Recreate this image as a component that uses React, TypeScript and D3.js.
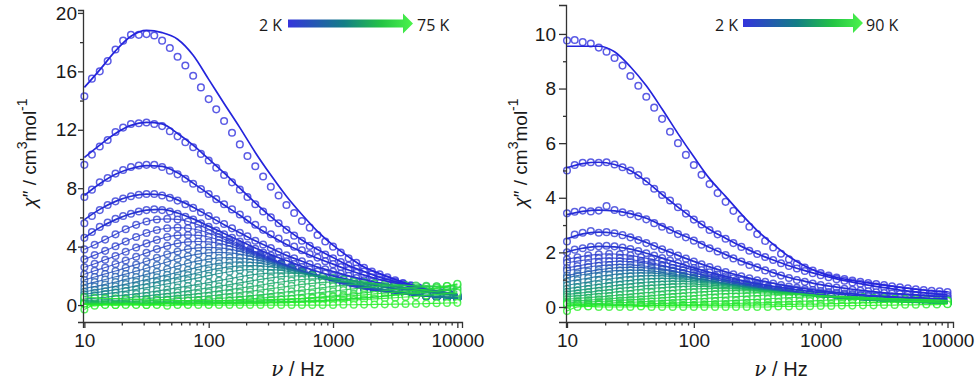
import React, { useEffect, useRef } from 'react';
import * as d3 from 'd3';

// measurement frequencies (Hz)
const FREQ_FINE = [10, 11.5, 13.3, 15.4, 17.8, 20.5, 23.7, 27.4, 31.6, 36.5, 42.2, 48.7, 56.2, 64.9, 75, 86.6,
  100, 115, 133, 154, 178, 205, 237, 274, 316, 365, 422, 487, 562, 649, 750, 866,
  1000, 1155, 1334, 1540, 1778, 2054, 2371, 2738, 3162, 3652, 4217, 4870, 5623, 6494, 7499, 8660, 10000];
const FREQ_COARSE = [10, 12.1, 14.7, 17.8, 21.5, 26.1, 31.6, 38.3, 46.4, 56.2, 68.1, 82.5,
  100, 121, 147, 178, 215, 261, 316, 383, 464, 562, 681, 825,
  1000, 1212, 1468, 1778, 2154, 2610, 3162, 3831, 4642, 5623, 6813, 8254, 10000];
const FREQ_FIT = [10, 13.3, 17.8, 23.7, 31.6, 42.2, 56.2, 75, 100, 133, 178, 237, 316, 422, 562, 750,
  1000, 1334, 1778, 2371, 3162, 4217, 5623, 7499, 10000];

const X_TICKS = [10, 100, 1000, 10000];
const X_MINOR = [20, 30, 40, 50, 60, 70, 80, 90, 200, 300, 400, 500, 600, 700, 800, 900,
  2000, 3000, 4000, 5000, 6000, 7000, 8000, 9000];
const LEFT_Y_TICKS = [0, 4, 8, 12, 16, 20];
const LEFT_Y_MINOR = [2, 6, 10, 14, 18];
const RIGHT_Y_TICKS = [0, 2, 4, 6, 8, 10];
const RIGHT_Y_MINOR = [1, 3, 5, 7, 9];
const LEFT_TEMPS = ['2 K', '75 K'];
const RIGHT_TEMPS = ['2 K', '90 K'];

// left panel: lowest temperatures, fine frequency grid
const LEFT_TOP = [
  [14.3, 15.5, 16.0, 16.7, 17.5, 18.1, 18.5, 18.5, 18.55, 18.45, 18.1, 17.6, 17.0, 16.4, 15.7, 14.9, 14.1, 13.4, 12.6, 11.8, 11.0, 10.2, 9.5, 8.8, 8.1, 7.5, 6.85, 6.3, 5.75, 5.3, 4.8, 4.35, 4.0, 3.6, 3.2, 2.9, 2.55, 2.3, 2.1, 1.9, 1.7, 1.5, 1.35, 1.2, 1.05, 0.95, 0.85, 0.75, 0.68],
  [9.6, 10.3, 10.85, 11.3, 11.85, 12.15, 12.4, 12.45, 12.5, 12.4, 12.25, 11.9, 11.55, 11.15, 10.8, 10.35, 9.9, 9.4, 8.9, 8.4, 7.9, 7.4, 6.9, 6.4, 6.0, 5.6, 5.15, 4.75, 4.4, 4.05, 3.75, 3.45, 3.2, 2.95, 2.7, 2.5, 2.3, 2.1, 1.9, 1.75, 1.6, 1.45, 1.3, 1.2, 1.05, 0.95, 0.85, 0.75, 0.65],
  [7.4, 7.9, 8.4, 8.7, 9.0, 9.25, 9.45, 9.55, 9.6, 9.6, 9.45, 9.2, 8.95, 8.65, 8.3, 7.95, 7.6, 7.25, 6.9, 6.55, 6.2, 5.85, 5.5, 5.15, 4.85, 4.55, 4.25, 4.0, 3.75, 3.5, 3.25, 3.0, 2.8, 2.6, 2.4, 2.2, 2.05, 1.9, 1.75, 1.6, 1.45, 1.35, 1.2, 1.1, 1.0, 0.9, 0.8, 0.72, 0.65],
  [5.6, 6.1, 6.5, 6.85, 7.1, 7.3, 7.45, 7.55, 7.6, 7.6, 7.5, 7.35, 7.15, 6.9, 6.65, 6.35, 6.1, 5.8, 5.55, 5.25, 4.95, 4.7, 4.4, 4.15, 3.9, 3.65, 3.4, 3.2, 3.0, 2.8, 2.6, 2.45, 2.3, 2.15, 2.0, 1.85, 1.7, 1.6, 1.5, 1.4, 1.3, 1.2, 1.1, 1.0, 0.95, 0.88, 0.8, 0.72, 0.65],
  [4.6, 5.0, 5.35, 5.65, 5.9, 6.1, 6.25, 6.4, 6.5, 6.55, 6.5, 6.4, 6.25, 6.05, 5.85, 5.6, 5.35, 5.1, 4.85, 4.6, 4.35, 4.1, 3.85, 3.6, 3.4, 3.2, 3.0, 2.8, 2.6, 2.45, 2.3, 2.15, 2.0, 1.85, 1.75, 1.6, 1.5, 1.4, 1.3, 1.2, 1.12, 1.05, 0.98, 0.92, 0.86, 0.8, 0.75, 0.7, 0.65],
];
const LEFT_TOP_FIT = [
  [14.9, 16.1, 17.4, 18.4, 18.8, 18.65, 18.2, 17.1, 15.45, 13.8, 12.15, 10.45, 8.9, 7.45, 6.2, 5.05, 4.1, 3.3, 2.6, 2.15, 1.75, 1.4, 1.1, 0.85, 0.7],
  [10.1, 10.95, 11.75, 12.3, 12.5, 12.4, 11.75, 10.95, 10.0, 9.05, 8.0, 7.0, 6.05, 5.2, 4.45, 3.8, 3.25, 2.7, 2.3, 1.9, 1.6, 1.35, 1.1, 0.9, 0.75],
  [7.5, 8.3, 8.95, 9.35, 9.55, 9.5, 9.05, 8.35, 7.6, 6.85, 6.15, 5.4, 4.75, 4.15, 3.65, 3.2, 2.8, 2.4, 2.05, 1.75, 1.5, 1.25, 1.05, 0.85, 0.7],
  [5.85, 6.55, 7.1, 7.45, 7.6, 7.55, 7.2, 6.7, 6.1, 5.5, 4.95, 4.4, 3.9, 3.4, 3.0, 2.6, 2.3, 2.0, 1.75, 1.5, 1.3, 1.1, 0.95, 0.8, 0.68],
  [4.6, 5.3, 5.85, 6.25, 6.5, 6.55, 6.3, 5.9, 5.4, 4.9, 4.4, 3.9, 3.45, 3.05, 2.65, 2.3, 2.0, 1.75, 1.5, 1.3, 1.15, 1.0, 0.9, 0.78, 0.68],
];
// left panel: higher temperatures, coarse frequency grid
const LEFT_LOW = [
  [3.81, 4.13, 4.48, 4.84, 5.19, 5.49, 5.72, 5.86, 5.9, 5.86, 5.72, 5.49, 5.19, 4.84, 4.48, 4.13, 3.81, 3.48, 3.19, 2.86, 2.57, 2.3, 2.07, 1.83, 1.62, 1.42, 1.24, 1.12, 1.0, 0.91, 0.83, 0.76, 0.69, 0.63, 0.58, 0.53, 0.49],
  [3.13, 3.42, 3.71, 4.03, 4.35, 4.66, 4.93, 5.14, 5.26, 5.3, 5.26, 5.14, 4.93, 4.66, 4.35, 4.03, 3.71, 3.42, 3.13, 2.86, 2.57, 2.31, 2.07, 1.86, 1.64, 1.46, 1.27, 1.11, 1.01, 0.9, 0.82, 0.74, 0.68, 0.62, 0.57, 0.52, 0.48],
  [2.59, 2.83, 3.1, 3.36, 3.65, 3.94, 4.22, 4.46, 4.66, 4.77, 4.8, 4.77, 4.66, 4.46, 4.22, 3.94, 3.65, 3.36, 3.1, 2.83, 2.59, 2.33, 2.09, 1.87, 1.68, 1.49, 1.32, 1.15, 1.01, 0.91, 0.82, 0.74, 0.67, 0.61, 0.56, 0.51, 0.47],
  [2.11, 2.35, 2.57, 2.81, 3.05, 3.31, 3.57, 3.83, 4.05, 4.22, 4.32, 4.35, 4.32, 4.22, 4.05, 3.83, 3.57, 3.31, 3.05, 2.81, 2.57, 2.35, 2.11, 1.89, 1.7, 1.52, 1.35, 1.2, 1.04, 0.91, 0.83, 0.74, 0.67, 0.61, 0.56, 0.51, 0.47],
  [1.72, 1.92, 2.13, 2.33, 2.55, 2.77, 3.0, 3.24, 3.48, 3.67, 3.83, 3.92, 3.95, 3.92, 3.83, 3.67, 3.48, 3.24, 3.0, 2.77, 2.55, 2.33, 2.13, 1.92, 1.72, 1.54, 1.38, 1.22, 1.09, 0.95, 0.83, 0.75, 0.67, 0.61, 0.55, 0.51, 0.46],
  [1.4, 1.57, 1.75, 1.94, 2.12, 2.32, 2.52, 2.74, 2.95, 3.17, 3.35, 3.49, 3.57, 3.6, 3.57, 3.49, 3.35, 3.17, 2.95, 2.74, 2.52, 2.32, 2.12, 1.94, 1.75, 1.57, 1.4, 1.26, 1.12, 0.99, 0.86, 0.76, 0.68, 0.61, 0.56, 0.5, 0.46],
  [1.14, 1.27, 1.41, 1.58, 1.76, 1.92, 2.1, 2.28, 2.47, 2.67, 2.86, 3.02, 3.15, 3.23, 3.25, 3.23, 3.15, 3.02, 2.86, 2.67, 2.47, 2.28, 2.1, 1.92, 1.76, 1.58, 1.41, 1.27, 1.14, 1.01, 0.89, 0.78, 0.68, 0.62, 0.55, 0.5, 0.46],
  [0.91, 1.03, 1.15, 1.28, 1.43, 1.59, 1.74, 1.9, 2.07, 2.24, 2.42, 2.6, 2.74, 2.86, 2.93, 2.95, 2.93, 2.86, 2.74, 2.6, 2.42, 2.24, 2.07, 1.9, 1.74, 1.59, 1.43, 1.28, 1.15, 1.03, 0.91, 0.81, 0.71, 0.62, 0.56, 0.5, 0.46],
  [0.74, 0.84, 0.95, 1.05, 1.17, 1.31, 1.46, 1.59, 1.74, 1.89, 2.05, 2.21, 2.38, 2.51, 2.62, 2.68, 2.7, 2.68, 2.62, 2.51, 2.38, 2.21, 2.05, 1.89, 1.74, 1.59, 1.46, 1.31, 1.17, 1.05, 0.95, 0.84, 0.74, 0.65, 0.57, 0.51, 0.46],
  [0.59, 0.67, 0.76, 0.86, 0.96, 1.07, 1.19, 1.32, 1.45, 1.58, 1.72, 1.86, 2.01, 2.16, 2.28, 2.38, 2.43, 2.45, 2.43, 2.38, 2.28, 2.16, 2.01, 1.86, 1.72, 1.58, 1.45, 1.32, 1.19, 1.07, 0.96, 0.86, 0.76, 0.67, 0.59, 0.51, 0.47],
  [0.42, 0.46, 0.53, 0.61, 0.68, 0.77, 0.86, 0.96, 1.07, 1.19, 1.3, 1.42, 1.54, 1.67, 1.8, 1.94, 2.05, 2.13, 2.18, 2.2, 2.18, 2.13, 2.05, 1.94, 1.8, 1.67, 1.54, 1.42, 1.3, 1.19, 1.07, 0.96, 0.86, 0.77, 0.68, 0.61, 0.53],
  [0.31, 0.34, 0.38, 0.42, 0.48, 0.55, 0.62, 0.7, 0.78, 0.87, 0.97, 1.08, 1.18, 1.29, 1.4, 1.52, 1.64, 1.76, 1.86, 1.94, 1.99, 2.0, 1.99, 1.94, 1.86, 1.76, 1.64, 1.52, 1.4, 1.29, 1.18, 1.08, 0.97, 0.87, 0.78, 0.7, 0.62],
  [0.23, 0.25, 0.28, 0.31, 0.34, 0.38, 0.43, 0.5, 0.56, 0.63, 0.7, 0.78, 0.87, 0.97, 1.06, 1.16, 1.26, 1.37, 1.48, 1.58, 1.67, 1.75, 1.79, 1.8, 1.79, 1.75, 1.67, 1.58, 1.48, 1.37, 1.26, 1.16, 1.06, 0.97, 0.87, 0.78, 0.7],
  [0.17, 0.19, 0.2, 0.22, 0.25, 0.27, 0.3, 0.34, 0.38, 0.44, 0.5, 0.56, 0.62, 0.7, 0.78, 0.86, 0.94, 1.03, 1.12, 1.22, 1.31, 1.41, 1.49, 1.55, 1.59, 1.6, 1.59, 1.55, 1.49, 1.41, 1.31, 1.22, 1.12, 1.03, 0.94, 0.86, 0.78],
  [0.12, 0.13, 0.14, 0.16, 0.17, 0.19, 0.2, 0.22, 0.25, 0.28, 0.3, 0.35, 0.4, 0.45, 0.51, 0.57, 0.63, 0.7, 0.78, 0.86, 0.94, 1.02, 1.1, 1.19, 1.28, 1.35, 1.41, 1.44, 1.45, 1.44, 1.41, 1.35, 1.28, 1.19, 1.1, 1.02, 0.94],
  [0.09, 0.1, 0.1, 0.11, 0.12, 0.13, 0.14, 0.16, 0.17, 0.19, 0.21, 0.23, 0.26, 0.28, 0.32, 0.37, 0.42, 0.47, 0.53, 0.59, 0.65, 0.73, 0.8, 0.87, 0.95, 1.03, 1.11, 1.19, 1.26, 1.31, 1.34, 1.35, 1.34, 1.31, 1.26, 1.19, 1.11],
  [0.07, 0.07, 0.07, 0.08, 0.09, 0.09, 0.1, 0.11, 0.12, 0.13, 0.14, 0.15, 0.17, 0.18, 0.2, 0.22, 0.25, 0.27, 0.31, 0.36, 0.4, 0.46, 0.51, 0.57, 0.63, 0.7, 0.77, 0.84, 0.91, 0.99, 1.07, 1.14, 1.21, 1.26, 1.29, 1.3, 1.29],
  [0.05, 0.05, 0.05, 0.06, 0.06, 0.06, 0.07, 0.07, 0.08, 0.08, 0.09, 0.1, 0.1, 0.11, 0.12, 0.13, 0.15, 0.16, 0.18, 0.19, 0.21, 0.24, 0.26, 0.3, 0.34, 0.39, 0.44, 0.49, 0.54, 0.61, 0.68, 0.74, 0.81, 0.88, 0.95, 1.03, 1.1],
  [0.07, 0.07, 0.07, 0.08, 0.08, 0.09, 0.09, 0.1, 0.11, 0.11, 0.12, 0.13, 0.14, 0.15, 0.16, 0.17, 0.18, 0.2, 0.22, 0.23, 0.25, 0.28, 0.3, 0.33, 0.36, 0.4, 0.44, 0.49, 0.55, 0.62, 0.71, 0.81, 0.91, 1.01, 1.13, 1.26, 1.4],
  [0.55, 0.5, 0.45, 0.45, 0.4, 0.4, 0.35, 0.35, 0.35, 0.3, 0.3, 0.3, 0.3, 0.3, 0.3, 0.32, 0.34, 0.36, 0.38, 0.4, 0.42, 0.45, 0.48, 0.52, 0.56, 0.6, 0.65, 0.7, 0.76, 0.82, 0.88, 0.95, 1.02, 1.1, 1.2, 1.3, 1.45],
  [-0.3, 0.0, 0.05, 0.0, 0.1, 0.05, 0.0, 0.05, 0.1, 0.05, 0.05, 0.1, 0.05, 0.1, 0.1, 0.1, 0.12, 0.12, 0.15, 0.15, 0.18, 0.2, 0.22, 0.25, 0.28, 0.3, 0.35, 0.38, 0.42, 0.46, 0.5, 0.55, 0.6, 0.66, 0.72, 0.78, 0.85],
  [0.1, -0.05, 0, 0, 0, 0, 0, 0, -0.05, 0, 0, 0, 0, 0, 0, 0, 0, 0, 0, 0, 0, 0, 0, 0, 0, 0.02, 0.02, 0.03, 0.04, 0.05, 0.06, 0.07, 0.08, 0.1, 0.12, 0.14, 0.15],
];

// right panel
const RIGHT_TOP = [
  [9.76, 9.78, 9.7, 9.65, 9.5, 9.35, 9.12, 8.84, 8.46, 8.1, 7.7, 7.3, 6.89, 6.42, 6.0, 5.57, 5.2, 4.84, 4.5, 4.17, 3.85, 3.52, 3.22, 2.94, 2.67, 2.42, 2.18, 1.95, 1.75, 1.58, 1.44, 1.33, 1.24, 1.15, 1.08, 1.02, 0.97, 0.92, 0.88, 0.84, 0.8, 0.76, 0.72, 0.68, 0.65, 0.62, 0.59, 0.57, 0.55],
  [5.0, 5.2, 5.28, 5.3, 5.28, 5.3, 5.22, 5.12, 5.0, 4.83, 4.6, 4.33, 4.1, 3.9, 3.65, 3.42, 3.2, 3.02, 2.82, 2.66, 2.5, 2.34, 2.2, 2.06, 1.94, 1.83, 1.72, 1.6, 1.5, 1.41, 1.32, 1.24, 1.16, 1.09, 1.02, 0.96, 0.9, 0.85, 0.8, 0.75, 0.71, 0.66, 0.62, 0.58, 0.55, 0.52, 0.49, 0.46, 0.44],
  [3.43, 3.49, 3.53, 3.5, 3.53, 3.7, 3.55, 3.47, 3.4, 3.32, 3.21, 3.07, 2.94, 2.82, 2.67, 2.55, 2.43, 2.28, 2.15, 2.03, 1.9, 1.78, 1.66, 1.54, 1.45, 1.34, 1.24, 1.15, 1.06, 0.99, 0.92, 0.86, 0.8, 0.75, 0.71, 0.67, 0.63, 0.6, 0.57, 0.54, 0.51, 0.49, 0.47, 0.45, 0.43, 0.41, 0.4, 0.38, 0.37],
  [2.4, 2.65, 2.72, 2.78, 2.72, 2.74, 2.7, 2.63, 2.55, 2.45, 2.34, 2.23, 2.11, 1.99, 1.88, 1.77, 1.66, 1.56, 1.46, 1.37, 1.28, 1.2, 1.12, 1.05, 0.98, 0.92, 0.86, 0.8, 0.75, 0.7, 0.66, 0.62, 0.58, 0.55, 0.52, 0.49, 0.47, 0.45, 0.43, 0.41, 0.39, 0.38, 0.36, 0.35, 0.34, 0.33, 0.32, 0.31, 0.3],
  [2.0, 2.1, 2.15, 2.2, 2.22, 2.24, 2.22, 2.18, 2.12, 2.05, 1.97, 1.88, 1.79, 1.7, 1.61, 1.52, 1.43, 1.35, 1.27, 1.19, 1.12, 1.05, 0.98, 0.92, 0.86, 0.81, 0.76, 0.71, 0.67, 0.63, 0.59, 0.56, 0.53, 0.5, 0.47, 0.45, 0.43, 0.41, 0.39, 0.37, 0.36, 0.34, 0.33, 0.32, 0.31, 0.3, 0.29, 0.28, 0.27],
];
const RIGHT_TOP_FIT = [
  [9.55, 9.55, 9.55, 9.35, 8.8, 8.1, 7.25, 6.35, 5.5, 4.7, 4.05, 3.4, 2.8, 2.3, 1.85, 1.5, 1.25, 1.08, 0.97, 0.88, 0.8, 0.72, 0.65, 0.59, 0.55],
  [5.1, 5.25, 5.3, 5.22, 5.0, 4.6, 4.12, 3.66, 3.22, 2.84, 2.52, 2.22, 1.95, 1.72, 1.51, 1.33, 1.17, 1.03, 0.91, 0.8, 0.71, 0.62, 0.55, 0.49, 0.44],
  [3.38, 3.5, 3.55, 3.52, 3.42, 3.25, 2.98, 2.7, 2.45, 2.18, 1.92, 1.68, 1.47, 1.26, 1.08, 0.94, 0.82, 0.73, 0.65, 0.58, 0.52, 0.48, 0.44, 0.4, 0.37],
  [2.5, 2.68, 2.74, 2.7, 2.57, 2.36, 2.12, 1.89, 1.67, 1.47, 1.29, 1.13, 0.99, 0.87, 0.76, 0.67, 0.59, 0.53, 0.48, 0.43, 0.39, 0.36, 0.34, 0.32, 0.3],
  [2.02, 2.15, 2.22, 2.2, 2.12, 1.97, 1.79, 1.61, 1.43, 1.27, 1.12, 0.98, 0.86, 0.76, 0.67, 0.59, 0.53, 0.48, 0.43, 0.39, 0.36, 0.33, 0.31, 0.29, 0.27],
];
const RIGHT_LOW = [
  [1.75, 1.82, 1.89, 1.93, 1.95, 1.93, 1.89, 1.82, 1.75, 1.66, 1.55, 1.45, 1.35, 1.25, 1.15, 1.06, 0.98, 0.9, 0.82, 0.74, 0.68, 0.62, 0.55, 0.51, 0.46, 0.42, 0.39, 0.36, 0.33, 0.31, 0.29, 0.27, 0.26, 0.25, 0.23, 0.22, 0.21],
  [1.62, 1.68, 1.74, 1.78, 1.8, 1.78, 1.74, 1.68, 1.62, 1.53, 1.43, 1.34, 1.25, 1.15, 1.06, 0.98, 0.9, 0.83, 0.76, 0.68, 0.63, 0.57, 0.51, 0.47, 0.42, 0.39, 0.36, 0.33, 0.3, 0.29, 0.27, 0.25, 0.24, 0.23, 0.21, 0.2, 0.19],
  [1.43, 1.5, 1.57, 1.63, 1.66, 1.68, 1.66, 1.63, 1.57, 1.5, 1.43, 1.34, 1.25, 1.16, 1.08, 0.99, 0.92, 0.84, 0.77, 0.71, 0.64, 0.59, 0.54, 0.47, 0.44, 0.39, 0.36, 0.34, 0.31, 0.29, 0.27, 0.25, 0.24, 0.22, 0.21, 0.2, 0.19],
  [1.33, 1.39, 1.46, 1.51, 1.54, 1.56, 1.54, 1.51, 1.46, 1.39, 1.33, 1.24, 1.16, 1.08, 1.0, 0.92, 0.85, 0.78, 0.72, 0.66, 0.59, 0.55, 0.5, 0.44, 0.41, 0.36, 0.33, 0.32, 0.29, 0.27, 0.25, 0.23, 0.22, 0.2, 0.2, 0.19, 0.18],
  [1.15, 1.23, 1.3, 1.36, 1.41, 1.44, 1.45, 1.44, 1.41, 1.36, 1.3, 1.23, 1.15, 1.08, 1.0, 0.93, 0.86, 0.79, 0.73, 0.67, 0.61, 0.55, 0.51, 0.46, 0.41, 0.38, 0.34, 0.31, 0.29, 0.27, 0.25, 0.23, 0.22, 0.2, 0.19, 0.18, 0.17],
  [1.07, 1.15, 1.21, 1.27, 1.31, 1.34, 1.35, 1.34, 1.31, 1.27, 1.21, 1.15, 1.07, 1.01, 0.93, 0.87, 0.8, 0.74, 0.68, 0.62, 0.57, 0.51, 0.47, 0.43, 0.38, 0.35, 0.32, 0.29, 0.27, 0.25, 0.23, 0.21, 0.2, 0.19, 0.18, 0.17, 0.16],
  [0.93, 0.99, 1.06, 1.12, 1.17, 1.21, 1.24, 1.25, 1.24, 1.21, 1.17, 1.12, 1.06, 0.99, 0.93, 0.86, 0.8, 0.74, 0.68, 0.63, 0.58, 0.53, 0.48, 0.44, 0.4, 0.35, 0.33, 0.29, 0.27, 0.25, 0.23, 0.21, 0.2, 0.19, 0.18, 0.17, 0.16],
  [0.79, 0.86, 0.91, 0.98, 1.03, 1.08, 1.12, 1.14, 1.15, 1.14, 1.12, 1.08, 1.03, 0.98, 0.91, 0.86, 0.79, 0.74, 0.68, 0.63, 0.58, 0.53, 0.48, 0.44, 0.4, 0.37, 0.32, 0.3, 0.27, 0.25, 0.23, 0.21, 0.2, 0.18, 0.17, 0.16, 0.15],
  [0.67, 0.72, 0.78, 0.83, 0.89, 0.94, 0.98, 1.02, 1.04, 1.05, 1.04, 1.02, 0.98, 0.94, 0.89, 0.83, 0.78, 0.72, 0.67, 0.62, 0.57, 0.53, 0.48, 0.44, 0.4, 0.37, 0.34, 0.29, 0.27, 0.25, 0.23, 0.21, 0.19, 0.18, 0.17, 0.16, 0.15],
  [0.56, 0.61, 0.66, 0.71, 0.76, 0.81, 0.85, 0.89, 0.92, 0.94, 0.95, 0.94, 0.92, 0.89, 0.85, 0.81, 0.76, 0.71, 0.66, 0.61, 0.56, 0.52, 0.48, 0.44, 0.4, 0.36, 0.33, 0.3, 0.27, 0.25, 0.22, 0.2, 0.19, 0.18, 0.16, 0.15, 0.14],
  [0.46, 0.5, 0.54, 0.59, 0.63, 0.68, 0.72, 0.76, 0.79, 0.82, 0.84, 0.85, 0.84, 0.82, 0.79, 0.76, 0.72, 0.68, 0.63, 0.59, 0.54, 0.5, 0.46, 0.43, 0.39, 0.36, 0.32, 0.3, 0.27, 0.24, 0.22, 0.2, 0.18, 0.17, 0.16, 0.14, 0.14],
  [0.38, 0.41, 0.45, 0.49, 0.52, 0.57, 0.6, 0.65, 0.68, 0.71, 0.74, 0.75, 0.76, 0.75, 0.74, 0.71, 0.68, 0.65, 0.6, 0.57, 0.52, 0.49, 0.45, 0.41, 0.38, 0.35, 0.32, 0.29, 0.27, 0.24, 0.21, 0.2, 0.18, 0.16, 0.15, 0.14, 0.13],
  [0.29, 0.31, 0.34, 0.37, 0.4, 0.44, 0.47, 0.51, 0.54, 0.58, 0.61, 0.64, 0.66, 0.67, 0.68, 0.67, 0.66, 0.64, 0.61, 0.58, 0.54, 0.51, 0.47, 0.44, 0.4, 0.37, 0.34, 0.31, 0.29, 0.26, 0.24, 0.22, 0.19, 0.18, 0.16, 0.15, 0.14],
  [0.21, 0.23, 0.25, 0.28, 0.3, 0.33, 0.35, 0.38, 0.41, 0.45, 0.48, 0.51, 0.54, 0.56, 0.58, 0.59, 0.6, 0.59, 0.58, 0.56, 0.54, 0.51, 0.48, 0.45, 0.41, 0.38, 0.35, 0.33, 0.3, 0.28, 0.25, 0.23, 0.21, 0.19, 0.17, 0.16, 0.14],
  [0.15, 0.17, 0.18, 0.2, 0.22, 0.24, 0.26, 0.28, 0.31, 0.33, 0.36, 0.39, 0.41, 0.44, 0.47, 0.49, 0.5, 0.51, 0.52, 0.51, 0.5, 0.49, 0.47, 0.44, 0.41, 0.39, 0.36, 0.33, 0.31, 0.28, 0.26, 0.24, 0.22, 0.2, 0.18, 0.17, 0.15],
  [0.1, 0.11, 0.12, 0.13, 0.14, 0.16, 0.17, 0.19, 0.21, 0.23, 0.25, 0.27, 0.29, 0.31, 0.34, 0.36, 0.38, 0.4, 0.42, 0.44, 0.45, 0.45, 0.45, 0.44, 0.42, 0.4, 0.38, 0.36, 0.34, 0.31, 0.29, 0.27, 0.25, 0.23, 0.21, 0.19, 0.17],
  [0.06, 0.06, 0.07, 0.08, 0.08, 0.09, 0.1, 0.11, 0.12, 0.13, 0.14, 0.16, 0.17, 0.19, 0.21, 0.22, 0.24, 0.26, 0.28, 0.3, 0.32, 0.34, 0.36, 0.37, 0.38, 0.38, 0.38, 0.37, 0.36, 0.34, 0.32, 0.3, 0.28, 0.26, 0.24, 0.22, 0.21],
  [0.04, 0.04, 0.04, 0.04, 0.05, 0.05, 0.05, 0.06, 0.06, 0.06, 0.07, 0.08, 0.08, 0.1, 0.11, 0.11, 0.13, 0.14, 0.15, 0.16, 0.18, 0.19, 0.21, 0.22, 0.24, 0.26, 0.27, 0.28, 0.29, 0.3, 0.3, 0.3, 0.29, 0.28, 0.27, 0.26, 0.24],
  [0.12, 0.1, 0.08, 0.1, 0.08, 0.06, 0.08, 0.06, 0.05, 0.06, 0.05, 0.06, 0.05, 0.06, 0.05, 0.06, 0.06, 0.07, 0.07, 0.08, 0.08, 0.09, 0.1, 0.1, 0.11, 0.12, 0.13, 0.14, 0.15, 0.16, 0.17, 0.18, 0.19, 0.2, 0.21, 0.22, 0.23],
  [-0.15, 0.0, 0.02, 0.0, 0.0, 0.0, 0.0, 0.02, 0.0, 0.0, 0.0, 0.0, 0.0, 0.0, 0.0, 0.0, 0.0, 0.0, 0.0, 0.0, 0.02, 0.02, 0.03, 0.03, 0.04, 0.04, 0.05, 0.05, 0.06, 0.06, 0.07, 0.07, 0.08, 0.08, 0.09, 0.09, 0.1],
];

const FONT = "'Liberation Sans', Arial, sans-serif";
const AXIS_COLOR = '#333';
const TEXT_COLOR = '#1a1a1a';

// blue (2 K) -> teal -> green (high T)
const curveColor = d3.scaleLinear<string>()
  .domain([0, 0.3, 0.55, 0.78, 1])
  .range(['#2424dc', '#2840c8', '#148a84', '#22cc48', '#22f022'])
  .interpolate(d3.interpolateRgb);

const GRAD_STOPS = [
  { offset: '0%', color: '#3434dc' },
  { offset: '45%', color: '#137e86' },
  { offset: '75%', color: '#24c444' },
  { offset: '100%', color: '#4cf44c' },
];

const PANELS = [
  {
    x0: 83, x1: 462, xDomain: [9.75, 10900],
    yTop: 10, yBottom: 322, yDomain: [-1.16, 20.2],
    yTicks: LEFT_Y_TICKS, yMinor: LEFT_Y_MINOR, tickSize: 5, tickPad: 1,
    top: LEFT_TOP, fits: LEFT_TOP_FIT, low: LEFT_LOW,
    yLabelX: 36, yLabelY: 153, xLabelX: 298,
    temps: LEFT_TEMPS, legend: { lx: 282, sx: 288, hx: 403, tx: 413, cy: 23.5, rx: 417 },
  },
  {
    x0: 566, x1: 953, xDomain: [9.82, 11050],
    yTop: 5, yBottom: 322, yDomain: [-0.55, 11.06],
    yTicks: RIGHT_Y_TICKS, yMinor: RIGHT_Y_MINOR, tickSize: 7, tickPad: 3,
    top: RIGHT_TOP, fits: RIGHT_TOP_FIT, low: RIGHT_LOW,
    yLabelX: 527, yLabelY: 153, xLabelX: 781,
    temps: RIGHT_TEMPS, legend: { lx: 738, sx: 743, hx: 853, tx: 863, cy: 23, rx: 866 },
  },
];

function drawPanel(svg: any, p: any) {
  const x = d3.scaleLog().domain(p.xDomain).range([p.x0, p.x1]);
  const y = d3.scaleLinear().domain(p.yDomain).range([p.yBottom, p.yTop]);

  const series = [
    ...p.top.map((vals: number[], i: number) => ({ freqs: FREQ_FINE, vals, fitFreqs: FREQ_FIT, fit: p.fits[i], main: true })),
    ...p.low.map((vals: number[]) => ({ freqs: FREQ_COARSE, vals, fitFreqs: FREQ_COARSE, fit: vals, main: false })),
  ];
  const n = series.length;
  const col = (i: number) => curveColor(i / (n - 1));

  const g = svg.append('g');

  // symbols
  series.forEach((s, i) => {
    g.append('g')
      .selectAll('circle')
      .data(s.vals)
      .join('circle')
      .attr('cx', (_d: number, j: number) => x(s.freqs[j]))
      .attr('cy', (d: number) => y(d))
      .attr('r', 3.3)
      .attr('fill', '#fff')
      .attr('stroke', col(i))
      .attr('stroke-opacity', 0.75)
      .attr('stroke-width', 1.5);
  });

  // fit lines
  series.forEach((s, i) => {
    const line = d3.line<number>()
      .x((_d, j) => x(s.fitFreqs[j]))
      .y(d => y(d))
      .curve(d3.curveMonotoneX);
    g.append('path')
      .datum(s.fit)
      .attr('fill', 'none')
      .attr('stroke', col(i))
      .attr('stroke-width', s.main ? 1.7 : 1.2)
      .attr('stroke-opacity', s.main ? 1 : 0.85)
      .attr('d', line);
  });

  // x axis
  const xAxis = svg.append('g')
    .attr('transform', `translate(0,${p.yBottom})`)
    .call(d3.axisBottom(x).tickValues(X_TICKS).tickFormat(d3.format('d')).tickSizeOuter(0).tickSize(6).tickPadding(6));
  svg.append('g')
    .attr('transform', `translate(0,${p.yBottom})`)
    .call(d3.axisBottom(x).tickValues(X_MINOR).tickFormat(() => '').tickSizeOuter(0).tickSize(3.5))
    .select('.domain').remove();

  // y axis
  const yAxis = svg.append('g')
    .attr('transform', `translate(${p.x0},0)`)
    .call(d3.axisLeft(y).tickValues(p.yTicks).tickFormat(d3.format('d')).tickSizeOuter(0).tickSize(p.tickSize).tickPadding(p.tickPad));
  svg.append('g')
    .attr('transform', `translate(${p.x0},0)`)
    .call(d3.axisLeft(y).tickValues(p.yMinor).tickFormat(() => '').tickSizeOuter(0).tickSize(3))
    .select('.domain').remove();

  svg.selectAll('.tick line, .domain').attr('stroke', AXIS_COLOR).attr('stroke-width', 1.3);
  [xAxis, yAxis].forEach(a => a.selectAll('text')
    .attr('font-family', FONT).attr('font-size', 19).attr('fill', TEXT_COLOR));

  // axis titles
  const xt = svg.append('text')
    .attr('x', p.xLabelX).attr('y', 376)
    .attr('text-anchor', 'middle')
    .attr('font-family', FONT).attr('font-size', 20).attr('fill', TEXT_COLOR);
  xt.append('tspan').attr('font-style', 'italic').attr('font-family', "'DejaVu Serif', serif").text('ν');
  xt.append('tspan').text(' / Hz');

  const yt = svg.append('text')
    .attr('transform', `translate(${p.yLabelX},${p.yLabelY}) rotate(-90)`)
    .attr('text-anchor', 'middle')
    .attr('font-family', FONT).attr('font-size', 19).attr('fill', TEXT_COLOR);
  yt.append('tspan').attr('font-style', 'italic').text('χ');
  yt.append('tspan').text('″ / cm');
  yt.append('tspan').attr('font-size', 14).attr('dy', -9).text('3');
  yt.append('tspan').attr('dy', 9).text('mol');
  yt.append('tspan').attr('font-size', 14).attr('dy', -9).text('-1');

  // temperature legend arrow
  const L = p.legend;
  const pts: [number, number][] = [
    [L.sx, L.cy - 4], [L.hx, L.cy - 4], [L.hx, L.cy - 10], [L.tx, L.cy],
    [L.hx, L.cy + 10], [L.hx, L.cy + 4], [L.sx, L.cy + 4],
  ];
  svg.append('polygon')
    .attr('points', pts.map(q => q.join(',')).join(' '))
    .attr('fill', 'url(#tempGrad)');
  svg.append('text')
    .attr('x', L.lx).attr('y', L.cy + 7.5)
    .attr('text-anchor', 'end')
    .attr('font-family', "'Open Sans', sans-serif").attr('font-size', 16).attr('fill', TEXT_COLOR)
    .text(p.temps[0]);
  svg.append('text')
    .attr('x', L.rx).attr('y', L.cy + 7.5)
    .attr('font-family', "'Open Sans', sans-serif").attr('font-size', 16).attr('fill', TEXT_COLOR)
    .text(p.temps[1]);
}

export default function App() {
  const ref = useRef<SVGSVGElement>(null);

  useEffect(() => {
    const svg = d3.select(ref.current);
    svg.selectAll('*').remove();

    const grad = svg.append('defs').append('linearGradient')
      .attr('id', 'tempGrad').attr('x1', '0%').attr('x2', '100%').attr('y1', '0%').attr('y2', '0%');
    GRAD_STOPS.forEach(s => grad.append('stop').attr('offset', s.offset).attr('stop-color', s.color));

    PANELS.forEach(p => drawPanel(svg, p));
  }, []);

  return (
    <svg
      ref={ref}
      width={980}
      height={385}
      style={{ position: 'absolute', left: 0, top: 0, background: '#fff', display: 'block' }}
    />
  );
}
